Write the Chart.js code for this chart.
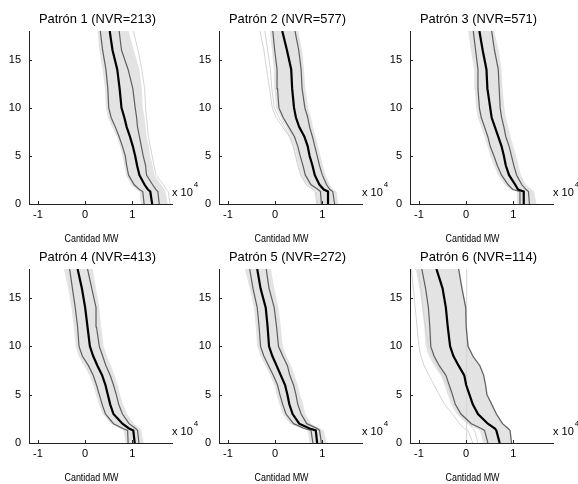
<!DOCTYPE html>
<html lang="es">
  <head>
    <meta charset="UTF-8" />
    <title>Patrones NVR</title>
    <script src="https://cdn.jsdelivr.net/npm/chart.js"></script>
    <style>
      body {
        margin: 0;
        width: 578px;
        height: 484px;
        overflow: hidden;
        background: #fff;
        position: relative;
      }
      canvas {
        position: absolute;
      }
    </style>
  </head>
  <body>
    <script>
      // vertical levels shared by every curve (bottom to top)
      const yLevels = [0, 1.3, 1.5, 2, 3, 4, 5, 6, 7, 8, 9, 10, 12, 14, 16, 18];
      const xTicks = [-1, 0, 1];
      const yTicks = [0, 5, 10, 15];
      const titles = [
        "Patrón 1 (NVR=213)",
        "Patrón 2 (NVR=577)",
        "Patrón 3 (NVR=571)",
        "Patrón 4 (NVR=413)",
        "Patrón 5 (NVR=272)",
        "Patrón 6 (NVR=114)",
      ];

      // Patrón 1
      const p1Median = [1.42, 1.38, 1.33, 1.26, 1.15, 1.10, 1.06, 1.01, 0.95, 0.88, 0.83, 0.77, 0.73, 0.68, 0.58, 0.52];
      const p1Low = [1.25, 1.22, 1.15, 1.04, 0.92, 0.88, 0.85, 0.79, 0.72, 0.64, 0.55, 0.50, 0.48, 0.44, 0.37, 0.32];
      const p1High = [1.57, 1.54, 1.50, 1.43, 1.30, 1.28, 1.23, 1.19, 1.15, 1.11, 1.09, 1.06, 1.01, 0.91, 0.77, 0.72];
      const p1BandLow = [1.18, 1.15, 1.08, 0.97, 0.87, 0.83, 0.79, 0.74, 0.67, 0.57, 0.48, 0.44, 0.42, 0.37, 0.30, 0.26];
      const p1BandHigh = [1.75, 1.70, 1.68, 1.61, 1.47, 1.43, 1.38, 1.35, 1.30, 1.28, 1.26, 1.22, 1.20, 1.15, 1.03, 0.92];
      const p1Light = [
        [1.80, 1.76, 1.72, 1.66, 1.50, 1.46, 1.42, 1.38, 1.34, 1.32, 1.30, 1.28, 1.26, 1.20, 1.12, 1.02],
      ];

      // Patrón 2
      const p2Median = [1.14, 1.12, 1.03, 0.94, 0.84, 0.79, 0.73, 0.69, 0.62, 0.51, 0.44, 0.40, 0.36, 0.34, 0.25, 0.15];
      const p2Low = [0.98, 0.96, 0.91, 0.76, 0.64, 0.59, 0.53, 0.48, 0.41, 0.29, 0.17, 0.08, 0.05, 0.04, -0.01, -0.05];
      const p2High = [1.26, 1.22, 1.16, 1.09, 1.00, 0.94, 0.89, 0.84, 0.79, 0.73, 0.69, 0.63, 0.57, 0.55, 0.50, 0.42];
      const p2BandLow = [0.91, 0.89, 0.84, 0.69, 0.57, 0.51, 0.46, 0.41, 0.34, 0.23, 0.12, 0.02, -0.02, -0.03, -0.07, -0.11];
      const p2BandHigh = [1.34, 1.30, 1.23, 1.16, 1.07, 1.01, 0.96, 0.91, 0.86, 0.80, 0.76, 0.70, 0.64, 0.61, 0.57, 0.49];
      const p2Light = [
        [0.88, 0.85, 0.80, 0.66, 0.54, 0.48, 0.43, 0.38, 0.30, 0.16, 0.02, -0.06, -0.12, -0.18, -0.24, -0.32],
        [0.90, 0.87, 0.82, 0.67, 0.55, 0.49, 0.44, 0.39, 0.32, 0.20, 0.08, -0.02, -0.07, -0.10, -0.16, -0.22],
      ];

      // Patrón 3
      const p3Median = [1.22, 1.22, 1.10, 1.04, 0.91, 0.84, 0.80, 0.75, 0.68, 0.61, 0.54, 0.51, 0.45, 0.43, 0.35, 0.28];
      const p3Low = [1.14, 1.14, 0.99, 0.89, 0.75, 0.66, 0.59, 0.51, 0.46, 0.39, 0.32, 0.28, 0.25, 0.25, 0.20, 0.15];
      const p3High = [1.34, 1.32, 1.27, 1.18, 1.07, 1.01, 0.96, 0.91, 0.84, 0.80, 0.75, 0.72, 0.70, 0.68, 0.60, 0.54];
      const p3BandLow = [1.08, 1.07, 0.93, 0.82, 0.68, 0.59, 0.51, 0.45, 0.39, 0.32, 0.25, 0.21, 0.18, 0.17, 0.10, 0.04];
      const p3BandHigh = [1.49, 1.44, 1.39, 1.27, 1.16, 1.11, 1.06, 1.00, 0.94, 0.89, 0.84, 0.81, 0.77, 0.75, 0.69, 0.59];
      const p3Light = [];

      // Patrón 4
      const p4Median = [1.05, 1.02, 0.93, 0.79, 0.60, 0.53, 0.48, 0.43, 0.36, 0.26, 0.17, 0.10, 0.05, 0.00, -0.07, -0.16];
      const p4Low = [0.91, 0.90, 0.80, 0.60, 0.43, 0.36, 0.30, 0.24, 0.17, 0.07, -0.06, -0.13, -0.16, -0.21, -0.27, -0.33];
      const p4High = [1.14, 1.11, 1.07, 0.93, 0.79, 0.71, 0.66, 0.60, 0.53, 0.44, 0.37, 0.30, 0.24, 0.23, 0.14, 0.05];
      const p4BandLow = [0.86, 0.81, 0.73, 0.55, 0.37, 0.29, 0.23, 0.17, 0.09, -0.02, -0.14, -0.20, -0.24, -0.29, -0.36, -0.45];
      const p4BandHigh = [1.24, 1.19, 1.16, 1.03, 0.89, 0.80, 0.74, 0.69, 0.62, 0.55, 0.46, 0.39, 0.34, 0.30, 0.23, 0.16];
      const p4Light = [];

      // Patrón 5
      const p5Median = [0.89, 0.86, 0.73, 0.51, 0.37, 0.30, 0.26, 0.21, 0.12, 0.03, -0.06, -0.13, -0.16, -0.20, -0.31, -0.38];
      const p5Low = [0.80, 0.76, 0.62, 0.39, 0.23, 0.16, 0.10, 0.05, -0.04, -0.14, -0.24, -0.31, -0.34, -0.38, -0.47, -0.54];
      const p5High = [0.98, 0.94, 0.89, 0.67, 0.55, 0.48, 0.44, 0.39, 0.31, 0.26, 0.16, 0.07, 0.03, -0.02, -0.13, -0.19];
      const p5BandLow = [0.73, 0.69, 0.55, 0.31, 0.16, 0.09, 0.03, -0.02, -0.11, -0.21, -0.31, -0.38, -0.41, -0.45, -0.54, -0.64];
      const p5BandHigh = [1.09, 1.03, 0.96, 0.76, 0.64, 0.59, 0.53, 0.48, 0.41, 0.34, 0.24, 0.16, 0.12, 0.07, -0.02, -0.09];
      const p5Light = [];

      // Patrón 6
      const p6Median = [0.71, 0.64, 0.61, 0.46, 0.25, 0.14, 0.07, 0.00, -0.04, -0.16, -0.27, -0.34, -0.39, -0.43, -0.50, -0.63];
      const p6Low = [0.46, 0.39, 0.32, 0.11, -0.11, -0.23, -0.29, -0.36, -0.43, -0.57, -0.68, -0.75, -0.77, -0.80, -0.86, -0.94];
      const p6High = [0.96, 0.93, 0.89, 0.77, 0.64, 0.54, 0.44, 0.41, 0.37, 0.29, 0.14, 0.04, 0.00, -0.01, -0.09, -0.16];
      const p6BandLow = [0.36, 0.29, 0.21, 0.01, -0.20, -0.32, -0.39, -0.46, -0.54, -0.68, -0.79, -0.86, -0.89, -0.93, -0.99, -1.07];
      const p6BandHigh = [0.98, 0.95, 0.91, 0.79, 0.66, 0.56, 0.46, 0.43, 0.39, 0.31, 0.16, 0.06, 0.02, 0.01, -0.07, -0.14];
      const p6Light = [
        [0.14, 0.04, -0.04, -0.14, -0.29, -0.46, -0.57, -0.68, -0.79, -0.89, -0.96, -1.00, -1.04, -1.08, -1.12, -1.16],
        [0.25, 0.18, 0.14, 0.06, -0.11, -0.23, -0.32, -0.39, -0.50, -0.61, -0.71, -0.79, -0.86, -0.92, -0.96, -1.01],
        [0.01, 0.01, 0.01, 0.01, 0.01, 0.01, 0.01, 0.01, 0.01, 0.01, 0.01, 0.01, 0.01, 0.01, 0.01, 0.01],
      ];

      const plots = [
        { median: p1Median, low: p1Low, high: p1High, bandLow: p1BandLow, bandHigh: p1BandHigh, light: p1Light },
        { median: p2Median, low: p2Low, high: p2High, bandLow: p2BandLow, bandHigh: p2BandHigh, light: p2Light },
        { median: p3Median, low: p3Low, high: p3High, bandLow: p3BandLow, bandHigh: p3BandHigh, light: p3Light },
        { median: p4Median, low: p4Low, high: p4High, bandLow: p4BandLow, bandHigh: p4BandHigh, light: p4Light },
        { median: p5Median, low: p5Low, high: p5High, bandLow: p5BandLow, bandHigh: p5BandHigh, light: p5Light },
        { median: p6Median, low: p6Low, high: p6High, bandLow: p6BandLow, bandHigh: p6BandHigh, light: p6Light },
      ];

      // page layout of the six axes
      const colLeft = [29, 219, 410];
      const rowTop = [31, 269];
      const areaW = 143;
      const areaH = [173, 174];
      const FONT = '"Liberation Sans", Arial, sans-serif';

      Chart.defaults.font.family = FONT;
      Chart.defaults.color = "#000";

      function pts(xs) {
        return xs.map((x, i) => ({ x: x, y: yLevels[i] }));
      }

      // axis decorations: inward ticks, title, xlabel and exponent note
      const decor = {
        id: "decor",
        afterDraw(chart) {
          const ctx = chart.ctx;
          const a = chart.chartArea;
          const sx = chart.scales.x;
          const sy = chart.scales.y;
          const mid = (a.left + a.right) / 2;
          ctx.save();
          ctx.strokeStyle = "#222";
          ctx.lineWidth = 1;
          ctx.beginPath();
          xTicks.forEach((v) => {
            const px = Math.round(sx.getPixelForValue(v)) + 0.5;
            ctx.moveTo(px, a.bottom);
            ctx.lineTo(px, a.bottom - 3);
          });
          yTicks.forEach((v) => {
            const py = Math.round(sy.getPixelForValue(v)) + 0.5;
            ctx.moveTo(a.left, py);
            ctx.lineTo(a.left + 3, py);
          });
          ctx.stroke();

          ctx.fillStyle = "#000";
          ctx.textBaseline = "middle";
          ctx.textAlign = "center";
          ctx.font = "13px " + FONT;
          ctx.fillText(chart.options.plugins.decor.title, mid - 3, a.top - 12, 117);
          ctx.font = "11px " + FONT;
          ctx.fillText("Cantidad MW", mid - 9, a.bottom + 35, 54);

          ctx.textAlign = "left";
          ctx.font = "11px " + FONT;
          ctx.fillText("x 10", a.right, a.bottom - 11);
          const wx = ctx.measureText("x 10").width;
          ctx.font = "8px " + FONT;
          ctx.fillText("4", a.right + wx + 1, a.bottom - 19);
          ctx.restore();
        },
      };

      plots.forEach((p, i) => {
        const col = i % 3;
        const row = Math.floor(i / 3);
        const canvas = document.createElement("canvas");
        canvas.width = 30 + areaW + 30;
        canvas.height = 31 + areaH[row] + 41;
        canvas.style.left = colLeft[col] - 30 + "px";
        canvas.style.top = rowTop[row] - 31 + "px";
        document.body.appendChild(canvas);

        const datasets = [];
        datasets.push({
          data: pts(p.bandLow).concat(pts(p.bandHigh).reverse()),
          fill: "shape",
          backgroundColor: "#e3e3e3",
          borderWidth: 0,
          order: 4,
        });
        p.light.forEach((l) => {
          datasets.push({ data: pts(l), borderColor: "#d4d4d4", borderWidth: 1, order: 3 });
        });
        datasets.push({ data: pts(p.low), borderColor: "#5e5e5e", borderWidth: 1.2, order: 1 });
        datasets.push({ data: pts(p.high), borderColor: "#5e5e5e", borderWidth: 1.2, order: 1 });
        datasets.push({ data: pts(p.median), borderColor: "#000", borderWidth: 2.2, order: 0 });

        new Chart(canvas, {
          type: "scatter",
          data: { datasets: datasets },
          options: {
            responsive: false,
            animation: false,
            devicePixelRatio: 1,
            showLine: true,
            layout: { autoPadding: false, padding: { left: 0, top: 31, right: 30, bottom: 0 } },
            elements: { point: { radius: 0 }, line: { tension: 0 } },
            plugins: {
              legend: { display: false },
              tooltip: { enabled: false },
              decor: { title: titles[i] },
            },
            scales: {
              x: {
                type: "linear",
                min: -1.19,
                max: 1.84,
                afterBuildTicks: (s) => {
                  s.ticks = xTicks.map((v) => ({ value: v }));
                },
                afterFit: (s) => {
                  s.height = 41;
                },
                grid: { display: false, drawTicks: false },
                border: { display: true, color: "#222", width: 1 },
                ticks: { padding: 4, font: { size: 11 }, maxRotation: 0 },
              },
              y: {
                type: "linear",
                min: 0,
                max: 18,
                afterBuildTicks: (s) => {
                  s.ticks = yTicks.map((v) => ({ value: v }));
                },
                afterFit: (s) => {
                  s.width = 30;
                },
                grid: { display: false, drawTicks: false },
                border: { display: true, color: "#222", width: 1 },
                ticks: { padding: 8, font: { size: 11 } },
              },
            },
          },
          plugins: [decor],
        });
      });
    </script>
  </body>
</html>
